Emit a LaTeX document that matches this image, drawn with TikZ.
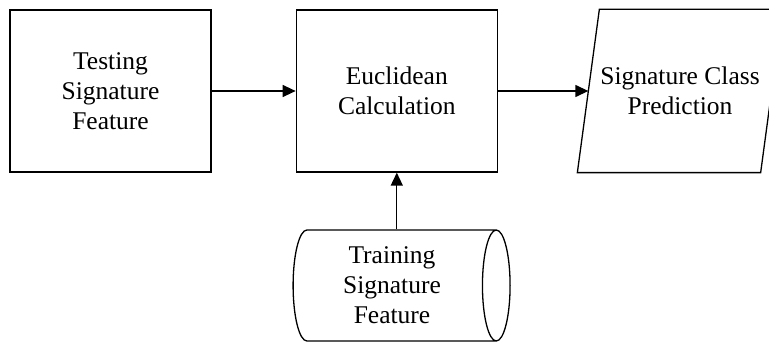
\documentclass[tikz,border=0pt]{standalone}
\usepackage{fontspec}
\setmainfont{Liberation Serif}
\usetikzlibrary{arrows.meta,positioning,shapes.geometric}

\begin{document}
\begin{tikzpicture}[
  x=1pt, y=-1pt,
  box/.style={draw, line width=1.3pt, minimum width=201pt,
              minimum height=162pt, align=center,
              font=\fontsize{25.5}{30}\selectfont},
  store/.style={box, cylinder, shape aspect=0.33, minimum width=111pt,
              minimum height=217pt},
  >={Triangle[length=13pt,width=12pt]},
]
  \useasboundingbox (0,0) rectangle (769,342);

  \node[box] (test) at (110.5,91)
    {Testing\\Signature\\Feature};
  \node[box, right=84pt of test] (eucl)
    {Euclidean\\Calculation};
  % output: parallelogram drawn round the text node
  \node[box, draw=none, minimum width=182pt] (pred) at (680,91)
    {Signature Class\\Prediction};
  \draw[line width=1.3pt]
    ([xshift=-11pt]pred.south west) -- ([xshift=11pt]pred.north west)
    -- ([xshift=11pt]pred.north east) -- ([xshift=-11pt]pred.south east)
    -- cycle;
  \node[store] (train) at (392,285.5)
    {Training\\Signature\\Feature};

  \draw[->, line width=1.3pt] (test) -- (eucl);
  \draw[->, line width=1.3pt] (eucl) -- (pred);
  \draw[->, line width=1.3pt] (train.north -| eucl.south) -- (eucl.south);
\end{tikzpicture}
\end{document}
